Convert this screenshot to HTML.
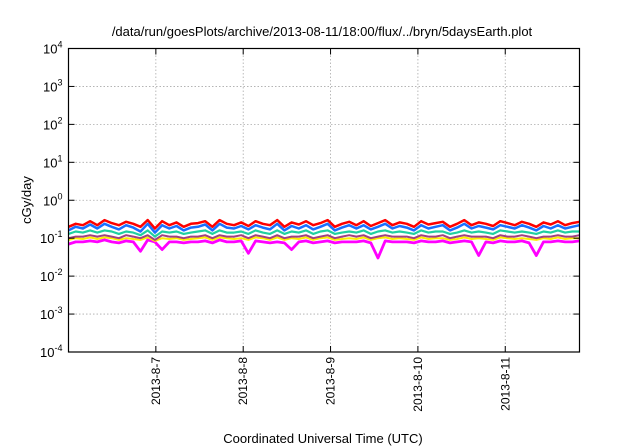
<!DOCTYPE html>
<html><head><meta charset="utf-8"><style>
body{margin:0;background:#fff;}
svg{display:block;font-family:"Liberation Sans",sans-serif;}
</style></head><body>
<svg id="chart" width="640" height="448" viewBox="0 0 640 448" xmlns="http://www.w3.org/2000/svg">
<rect width="640" height="448" fill="#fff"/>
<text x="322" y="36" font-size="13" text-anchor="middle">/data/run/goesPlots/archive/2013-08-11/18:00/flux/../bryn/5daysEarth.plot</text>
<text x="323" y="443" font-size="13" text-anchor="middle">Coordinated Universal Time (UTC)</text>
<text transform="translate(31,200) rotate(-90)" font-size="13" text-anchor="middle">cGy/day</text>
<g id="grid"></g>
<g id="series"></g>
<rect x="68.5" y="48.5" width="511" height="303.5" fill="none" stroke="#000" stroke-width="1.2"/>
<g id="ticks"></g>
</svg>
<script>
const yExps = [-4,-3,-2,-1,0,1,2,3,4];
const xTickDays = [1,2,3,4,5];
const xTickLabels = ["2013-8-7","2013-8-8","2013-8-9","2013-8-10","2013-8-11"];
const dayRange = [0, 5.85];
const red = [0.2,0.24,0.22,0.28,0.22,0.3,0.25,0.22,0.27,0.24,0.2,0.3,0.18,0.28,0.22,0.26,0.2,0.24,0.25,0.28,0.2,0.3,0.24,0.22,0.26,0.21,0.28,0.24,0.22,0.3,0.2,0.26,0.23,0.28,0.22,0.25,0.3,0.2,0.24,0.27,0.22,0.28,0.21,0.25,0.3,0.22,0.26,0.24,0.2,0.28,0.23,0.25,0.27,0.2,0.24,0.3,0.22,0.26,0.24,0.21,0.28,0.25,0.22,0.27,0.24,0.2,0.26,0.23,0.28,0.22,0.25,0.27];
const blue = [0.16,0.2,0.18,0.23,0.18,0.24,0.2,0.17,0.22,0.19,0.15,0.24,0.14,0.22,0.18,0.21,0.16,0.19,0.2,0.23,0.16,0.24,0.19,0.18,0.21,0.17,0.22,0.19,0.17,0.24,0.16,0.21,0.18,0.22,0.17,0.2,0.24,0.16,0.19,0.22,0.18,0.22,0.17,0.2,0.24,0.18,0.21,0.19,0.16,0.22,0.18,0.2,0.22,0.16,0.19,0.24,0.18,0.21,0.19,0.17,0.22,0.2,0.18,0.22,0.19,0.16,0.21,0.18,0.22,0.18,0.2,0.22];
const green = [0.13,0.15,0.14,0.16,0.14,0.16,0.15,0.13,0.15,0.14,0.12,0.16,0.11,0.15,0.14,0.15,0.13,0.14,0.15,0.16,0.13,0.16,0.14,0.14,0.15,0.13,0.16,0.14,0.13,0.16,0.13,0.15,0.14,0.16,0.13,0.15,0.16,0.13,0.14,0.15,0.14,0.16,0.13,0.15,0.16,0.14,0.15,0.14,0.13,0.16,0.14,0.15,0.15,0.13,0.14,0.16,0.14,0.15,0.14,0.13,0.16,0.15,0.14,0.15,0.14,0.13,0.15,0.14,0.16,0.14,0.15,0.15];
const purple = [0.1,0.11,0.11,0.12,0.11,0.12,0.11,0.1,0.12,0.11,0.1,0.12,0.09,0.12,0.11,0.11,0.1,0.11,0.11,0.12,0.1,0.12,0.11,0.11,0.12,0.1,0.12,0.11,0.1,0.12,0.1,0.11,0.11,0.12,0.1,0.11,0.12,0.1,0.11,0.12,0.11,0.12,0.1,0.11,0.12,0.11,0.11,0.11,0.1,0.12,0.11,0.11,0.12,0.1,0.11,0.12,0.11,0.11,0.11,0.1,0.12,0.11,0.11,0.12,0.11,0.1,0.11,0.11,0.12,0.11,0.11,0.12];
const yellow = [0.09,0.1,0.095,0.105,0.095,0.105,0.1,0.09,0.1,0.095,0.09,0.105,0.085,0.1,0.095,0.1,0.09,0.095,0.1,0.105,0.09,0.105,0.1,0.095,0.1,0.09,0.105,0.1,0.09,0.105,0.09,0.1,0.095,0.105,0.09,0.1,0.105,0.09,0.095,0.1,0.095,0.105,0.09,0.1,0.105,0.095,0.1,0.095,0.09,0.105,0.095,0.1,0.1,0.09,0.095,0.105,0.095,0.1,0.095,0.09,0.105,0.1,0.095,0.1,0.095,0.09,0.1,0.095,0.105,0.095,0.1,0.1];
const magenta = [0.07,0.08,0.08,0.085,0.08,0.09,0.08,0.075,0.085,0.08,0.045,0.09,0.08,0.05,0.08,0.08,0.075,0.08,0.08,0.085,0.075,0.09,0.08,0.08,0.085,0.04,0.085,0.08,0.075,0.08,0.075,0.05,0.08,0.085,0.075,0.08,0.085,0.075,0.08,0.08,0.08,0.085,0.075,0.03,0.085,0.08,0.08,0.08,0.075,0.085,0.08,0.08,0.085,0.075,0.08,0.085,0.08,0.035,0.08,0.075,0.085,0.08,0.08,0.085,0.075,0.035,0.08,0.08,0.085,0.08,0.08,0.085];
const seriesList = [["magenta-series",magenta,"#ff00ff",2.8],["yellow-series",yellow,"#ffee00",2],["purple-series",purple,"#a04080",2],["green-series",green,"#20d0a0",2.2],["red-series",red,"#ff0000",2.5],["blue-series",blue,"#1a6fff",2.5]];

const L=68.5,R=579.5,T=48.5,B=352;
const NS="http://www.w3.org/2000/svg";
function xs(d){return L+(d-dayRange[0])/(dayRange[1]-dayRange[0])*(R-L);}
function ys(v){return B-(Math.log10(v)+4)/8*(B-T);}
function mk(tag,attrs,parent){const e=document.createElementNS(NS,tag);for(const k in attrs)e.setAttribute(k,attrs[k]);parent.appendChild(e);return e;}
const grid=document.getElementById('grid'),ticks=document.getElementById('ticks'),ser=document.getElementById('series');
yExps.forEach(e=>{
  const y=ys(Math.pow(10,e));
  if(e>-4&&e<4){const g=mk('line',{x1:L,x2:R,y1:y,y2:y,stroke:'#aaa','stroke-dasharray':'1.5,2','stroke-width':0.8},grid);
  
  }
  const t1=mk('line',{x1:L,x2:L+6,y1:y,y2:y,stroke:'#000'},ticks);
  
  
  const t2=mk('line',{x1:R-6,x2:R,y1:y,y2:y,stroke:'#000'},ticks);
  
  
  const tx=mk('text',{x:L-6,y:y+5,'font-size':13,'text-anchor':'end'},ticks);
  
  
  tx.textContent='10';
  const sp=mk('tspan',{dy:-6,'font-size':9},tx);sp.textContent=String(e);
});
xTickDays.forEach((d,i)=>{
  const x=xs(d);
  const g=mk('line',{x1:x,x2:x,y1:T,y2:B,stroke:'#aaa','stroke-dasharray':'1.5,2','stroke-width':0.8},grid);
  
  
  const t=mk('line',{x1:x,x2:x,y1:B-6,y2:B,stroke:'#000'},ticks);
  
  
  const t2=mk('line',{x1:x,x2:x,y1:T,y2:T+6,stroke:'#000'},ticks);
  
  
  const tx=mk('text',{transform:`translate(${x+4},${B+5}) rotate(-90)`,'font-size':12,'text-anchor':'end'},ticks);
  
  
  tx.textContent=xTickLabels[i];
});
seriesList.forEach(([name,vals,col,w])=>{
  const n=vals.length;
  const pts=vals.map((v,i)=>xs(dayRange[0]+i*(dayRange[1]-dayRange[0])/(n-1)).toFixed(1)+','+ys(v).toFixed(1)).join(' ');
  const p=mk('polyline',{points:pts,fill:'none',stroke:col,'stroke-width':w,'stroke-linejoin':'round'},ser);
  
  
});
</script>
</body></html>
